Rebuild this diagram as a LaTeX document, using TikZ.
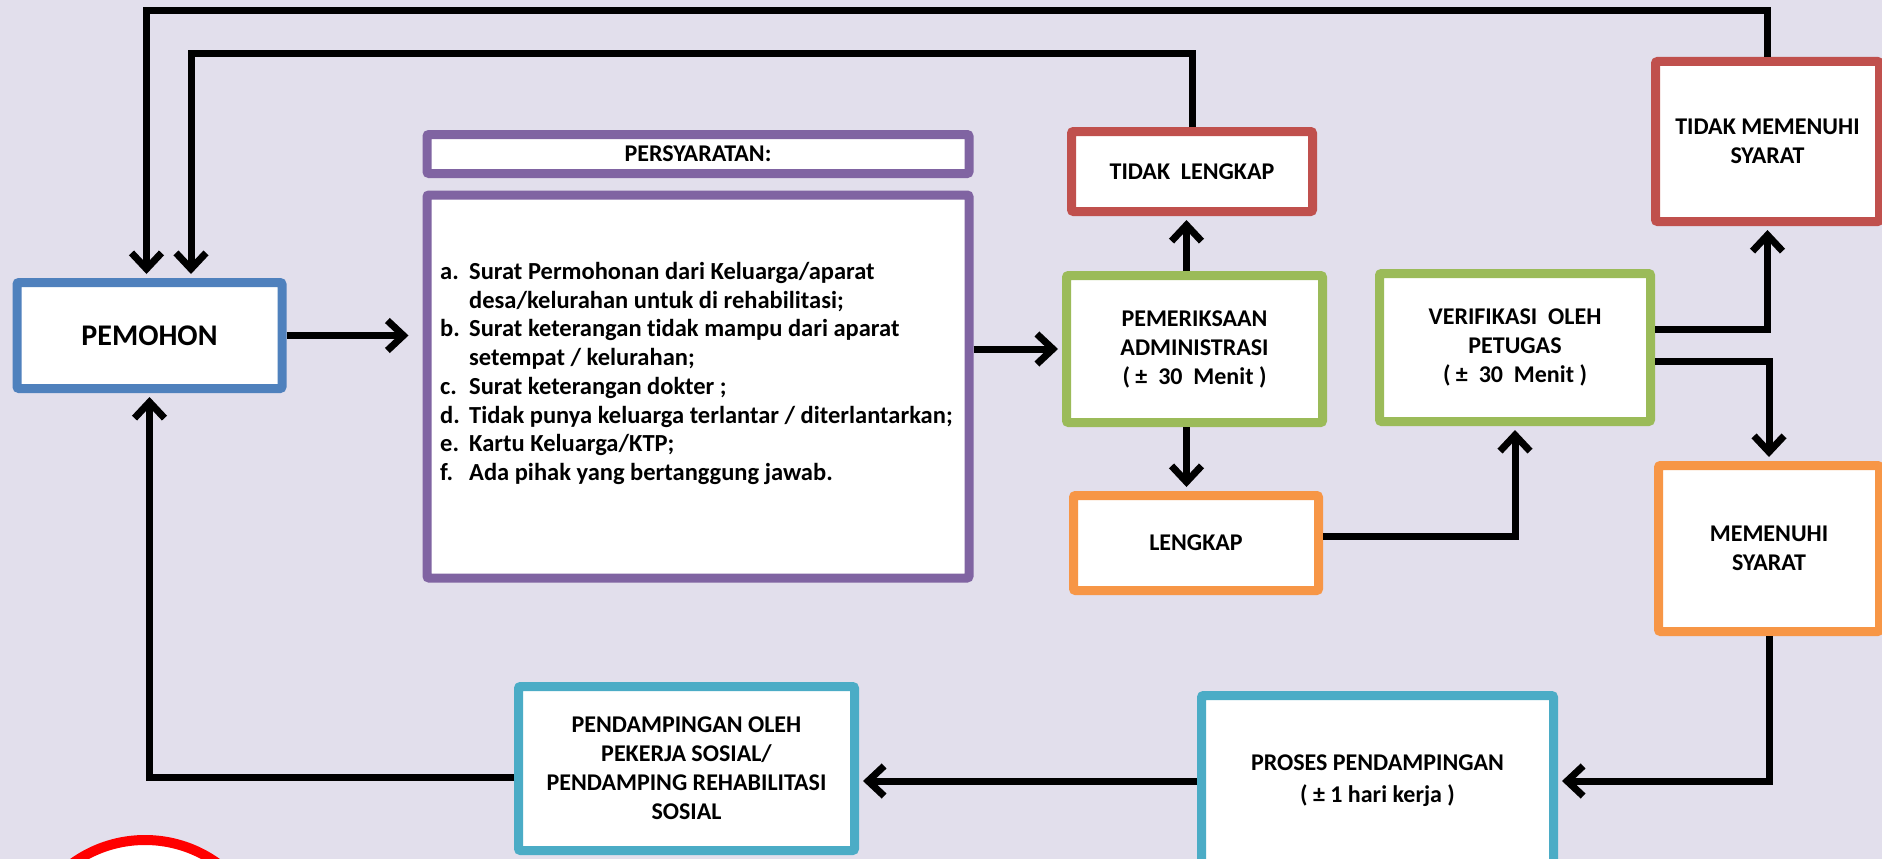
\documentclass[tikz,border=0pt]{standalone}
\usepackage{fontspec}
\setmainfont[Ligatures=NoCommon]{Carlito}
\usetikzlibrary{arrows.meta}
\definecolor{lavender}{RGB}{226, 223, 236}
\definecolor{steelblue}{RGB}{79, 129, 189}
\definecolor{amethyst}{RGB}{128, 100, 162}
\definecolor{brickred}{RGB}{192, 80, 77}
\definecolor{olivegreen}{RGB}{155, 187, 89}
\definecolor{tangerine}{RGB}{247, 150, 70}
\definecolor{aqua}{RGB}{75, 172, 198}
\newcommand{\butir}[1]{\makebox[29pt][l]{#1}}

\begin{document}
\begin{tikzpicture}[x=1pt, y=-1pt,
        kotak/.style={draw=#1, line width=9pt, fill=white, rounded corners=2pt, inner sep=0pt,
                      align=center, font=\fontsize{24}{29}\selectfont\bfseries},
        panah/.style={line width=7pt, -{Straight Barb[length=16pt, width=30pt]}, shorten >=4pt}]
            \useasboundingbox                                              (0, 0) rectangle (1882, 859);
            \clip                                                          (0, 0) rectangle (1882, 859);
            \fill[lavender]                                                (0, 0) rectangle (1882, 859);
            \coordinate (jalurluar)  at (0, 11);
            \coordinate (jalurdalam) at (0, 54);

            \node[circle, draw=red, fill=white, line width=10pt, minimum size=248pt, inner sep=0pt] (tanda) at (145, 964) {};

            \node[kotak=steelblue,  minimum width=265pt, minimum height=106pt, font=\fontsize{30}{34}\selectfont\bfseries]
                 (pemohon)       at ( 149.5, 335.5) {PEMOHON};
            \node[kotak=amethyst,   minimum width=542pt, minimum height=39pt]  (judulsyarat)   at ( 698.0, 154.0) {PERSYARATAN:};
            \node[kotak=amethyst,   minimum width=542pt, minimum height=383pt] (syarat)        at ( 698.0, 386.5) {};
            \node[anchor=west, align=left, inner sep=0pt, font=\fontsize{24.5}{28.7}\selectfont\bfseries]
                 (isisyarat)     at ( 440.0, 373.5) {\butir{a.}Surat Permohonan dari Keluarga/aparat\\
                                                     \hspace*{29pt}desa/kelurahan untuk di rehabilitasi;\\
                                                     \butir{b.}Surat keterangan tidak mampu dari aparat\\
                                                     \hspace*{29pt}setempat / kelurahan;\\
                                                     \butir{c.}Surat keterangan dokter ;\\
                                                     \butir{d.}Tidak punya keluarga terlantar / diterlantarkan;\\
                                                     \butir{e.}Kartu Keluarga/KTP;\\
                                                     \butir{f.}Ada pihak yang bertanggung jawab.};
            \node[kotak=brickred,   minimum width=241pt, minimum height=80pt]  (tidaklengkap)  at (1192.0, 171.5) {TIDAK\ \ LENGKAP};
            \node[kotak=olivegreen, minimum width=256pt, minimum height=147pt] (periksa)       at (1194.5, 349.0) {PEMERIKSAAN\\ADMINISTRASI\\( ±\ \ 30\ \ Menit )};
            \node[kotak=tangerine,  minimum width=245pt, minimum height=95pt]  (lengkap)       at (1196.0, 543.0) {LENGKAP};
            \node[kotak=olivegreen, minimum width=271pt, minimum height=148pt] (verifikasi)    at (1515.0, 347.5) {VERIFIKASI\ \ OLEH\\PETUGAS\\( ±\ \ 30\ \ Menit )};
            \node[kotak=brickred,   minimum width=224pt, minimum height=160pt] (tidakmemenuhi) at (1767.5, 141.5) {TIDAK MEMENUHI\\SYARAT};
            \node[kotak=tangerine,  minimum width=221pt, minimum height=166pt] (memenuhi)      at (1769.0, 548.5) {MEMENUHI\\SYARAT};
            \node[kotak=aqua,       minimum width=352pt, minimum height=171pt] (proses)        at (1377.5, 781.0) {PROSES PENDAMPINGAN\\[3pt]( ± 1 hari kerja )};
            \node[kotak=aqua,       minimum width=336pt, minimum height=164pt] (pendamping)    at ( 686.5, 768.5) {PENDAMPINGAN OLEH\\PEKERJA SOSIAL/\\PENDAMPING REHABILITASI\\SOSIAL};

            \draw[panah] (pemohon.east) -- ([xshift=-10pt]pemohon.east -| syarat.west);
            \draw[panah] (periksa.west -| syarat.east) -- (periksa.west);
            \draw[panah] ([xshift=-8pt]periksa.north) -- ([xshift=-8pt]periksa.north |- tidaklengkap.south);
            \draw[panah] ([xshift=-8pt]periksa.south) -- ([xshift=-8pt]periksa.south |- lengkap.north);
            \draw[panah] ([yshift=7pt]lengkap.east) -| (verifikasi.south);
            \draw[panah] ([yshift=18pt]verifikasi.east) -| (tidakmemenuhi.south);
            \draw[panah] ([yshift=-14pt]verifikasi.east) -| (memenuhi.north);
            \draw[panah] (memenuhi.south) |- (proses.east);
            \draw[panah] (proses.west) -- (proses.west -| pendamping.east);
            \draw[panah] ([yshift=-8.5pt]pendamping.west) -| (pemohon.south);
            \draw[panah] (tidaklengkap.north) -- (tidaklengkap.north |- jalurdalam) -| ([xshift=41.5pt]pemohon.north);
            \draw[panah] (tidakmemenuhi.north) -- (tidakmemenuhi.north |- jalurluar) -| ([xshift=-3pt]pemohon.north);
\end{tikzpicture}
\end{document}
